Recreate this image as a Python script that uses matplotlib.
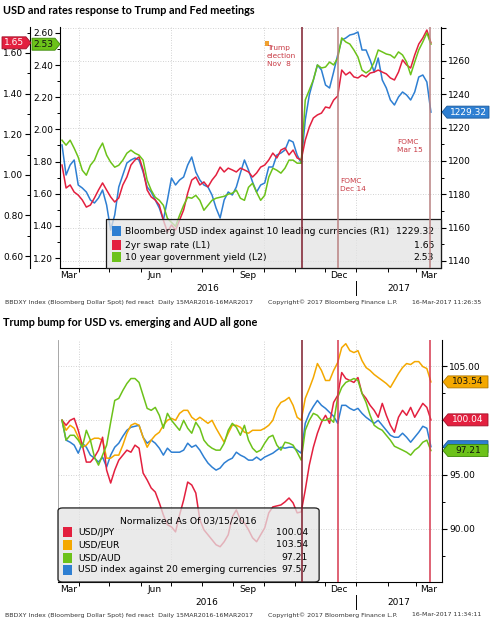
import pandas as pd
import matplotlib
matplotlib.use("Agg")
import matplotlib.pyplot as plt
import matplotlib.dates as mdates
from matplotlib.ticker import MultipleLocator
from matplotlib.patches import Polygon, Rectangle, FancyBboxPatch

W, H = 492, 625

# roughly every 4 days, 15 Mar 2016 .. 16 Mar 2017
dates = pd.date_range("2016-03-15", "2017-03-16", periods=92)

# ---- panel 1: BBDXY (R1), 2yr swap (L1), 10y yield (L2)
bbdxy = [
    1209.6, 1191.6, 1197.6, 1200.6, 1185.6, 1183.8, 1181.4, 1176.6, 1174.8, 1177.8,
    1182.6, 1173.6, 1158.6, 1167.6, 1184.4, 1191.6, 1198.8, 1200.6, 1201.8, 1200.6,
    1193.4, 1184.4, 1181.4, 1176.6, 1171.8, 1164.6, 1176.6, 1189.8, 1185.6, 1188.6,
    1190.4, 1197.6, 1202.4, 1193.4, 1188.6, 1185.6, 1184.4, 1179.6, 1171.8, 1165.8,
    1176.6, 1181.4, 1179.6, 1184.4, 1192.8, 1200.6, 1194.6, 1187.4, 1181.4, 1185.6,
    1186.8, 1196.4, 1196.4, 1203.6, 1204.8, 1206.6, 1212.6, 1211.4, 1203.6, 1198.8,
    1224.6, 1239.6, 1248.6, 1257.6, 1254.6, 1245.6, 1243.8, 1253.4, 1263.6, 1272.6,
    1273.8, 1275.6, 1276.2, 1277.4, 1266.6, 1266.6, 1260.6, 1253.4, 1261.8, 1248.6,
    1243.8, 1236.6, 1233.6, 1238.4, 1241.4, 1239.6, 1236.6, 1241.4, 1250.4, 1251.6,
    1247.4, 1229.32,
]
swap_2y = [
    1.048, 0.935, 0.950, 0.915, 0.900, 0.876, 0.841, 0.851, 0.886, 0.925,
    0.960, 0.925, 0.891, 0.866, 0.886, 0.950, 0.989, 1.048, 1.073, 1.088,
    1.024, 0.925, 0.891, 0.876, 0.851, 0.777, 0.718, 0.753, 0.728, 0.777,
    0.827, 0.910, 0.974, 0.989, 0.950, 0.965, 0.940, 0.974, 0.999, 1.038,
    1.014, 1.033, 1.024, 1.014, 1.033, 1.024, 1.014, 0.989, 1.009, 1.038,
    1.048, 1.073, 1.107, 1.083, 1.122, 1.132, 1.098, 1.122, 1.083, 1.073,
    1.171, 1.235, 1.280, 1.295, 1.304, 1.334, 1.329, 1.368, 1.388, 1.516,
    1.492, 1.506, 1.482, 1.477, 1.492, 1.482, 1.501, 1.506, 1.516, 1.506,
    1.497, 1.477, 1.467, 1.506, 1.566, 1.541, 1.526, 1.590, 1.644, 1.674,
    1.713, 1.65,
]
yield_10y = [
    1.933, 1.902, 1.933, 1.883, 1.827, 1.746, 1.715, 1.777, 1.809, 1.871,
    1.915, 1.840, 1.796, 1.765, 1.777, 1.809, 1.852, 1.871, 1.852, 1.840,
    1.809, 1.684, 1.622, 1.578, 1.559, 1.528, 1.447, 1.422, 1.397, 1.466,
    1.528, 1.578, 1.572, 1.590, 1.559, 1.497, 1.528, 1.559, 1.572, 1.578,
    1.584, 1.597, 1.603, 1.622, 1.572, 1.559, 1.640, 1.665, 1.609, 1.559,
    1.590, 1.703, 1.759, 1.746, 1.728, 1.759, 1.809, 1.809, 1.790, 1.790,
    2.183, 2.245, 2.308, 2.401, 2.382, 2.388, 2.419, 2.401, 2.444, 2.569,
    2.544, 2.531, 2.494, 2.450, 2.369, 2.351, 2.369, 2.419, 2.494, 2.482,
    2.469, 2.463, 2.444, 2.482, 2.463, 2.419, 2.340, 2.419, 2.494, 2.544,
    2.600, 2.53,
]

# ---- panel 2: normalized to 100 on 15 Mar 2016
usd_jpy = [
    100.0, 99.54, 100.0, 100.18, 99.08, 97.71, 96.15, 96.15, 96.61, 97.25,
    98.44, 95.41, 94.22, 95.41, 96.33, 96.79, 97.25, 97.06, 97.71, 97.43,
    95.14, 94.50, 93.76, 93.39, 92.39, 91.28, 90.37, 90.18, 89.72, 91.28,
    92.66, 94.31, 94.04, 93.30, 90.83, 89.91, 89.45, 88.99, 88.53, 88.35,
    88.81, 89.45, 91.10, 91.74, 90.83, 90.55, 89.91, 89.17, 88.81, 89.45,
    90.09, 91.47, 92.02, 92.11, 92.20, 92.48, 92.84, 92.39, 91.47, 91.56,
    93.58, 95.87, 97.52, 98.81, 99.82, 100.46, 99.72, 101.65, 102.29, 104.40,
    103.85, 103.67, 103.49, 103.94, 102.48, 102.02, 101.38, 100.92, 100.28, 101.56,
    100.46, 99.54, 98.90, 100.28, 100.92, 100.46, 101.19, 100.28, 100.92, 101.56,
    101.19, 100.04,
]
usd_eur = [
    100.0, 99.08, 99.54, 99.27, 98.44, 97.52, 97.71, 98.17, 98.35, 98.35,
    98.17, 96.51, 96.51, 96.79, 96.79, 97.71, 98.81, 99.54, 99.72, 99.54,
    98.44, 97.52, 98.17, 98.62, 98.90, 99.54, 100.0, 100.18, 100.0, 100.64,
    100.92, 100.92, 100.28, 100.0, 100.28, 100.0, 99.72, 100.0, 99.27, 98.62,
    97.98, 98.81, 99.54, 99.54, 99.36, 98.90, 98.81, 99.08, 99.08, 99.08,
    99.27, 99.54, 100.0, 101.10, 101.65, 101.83, 102.11, 101.38, 100.28, 100.0,
    102.02, 102.94, 103.94, 105.23, 104.59, 103.67, 103.67, 104.59, 105.32, 106.70,
    107.06, 106.42, 106.24, 106.42, 105.50, 104.86, 104.59, 104.22, 103.94, 103.67,
    103.39, 103.03, 103.67, 104.31, 104.86, 105.23, 105.14, 105.41, 105.41, 104.95,
    104.77, 103.54,
]
usd_aud = [
    100.0, 98.17, 98.62, 98.62, 98.17, 97.52, 99.08, 98.17, 96.61, 95.87,
    96.79, 97.71, 99.82, 101.83, 102.02, 102.75, 103.39, 103.85, 103.85, 103.49,
    102.29, 101.10, 100.92, 101.19, 100.46, 99.27, 100.64, 100.0, 99.54, 99.08,
    100.0, 99.27, 98.81, 99.82, 99.27, 98.17, 97.71, 97.43, 97.25, 97.25,
    97.89, 99.08, 99.72, 99.36, 98.62, 99.54, 98.17, 97.43, 97.06, 97.25,
    97.89, 98.44, 98.62, 97.71, 97.25, 97.98, 97.89, 97.71, 97.06, 96.33,
    99.08, 100.0, 100.64, 100.46, 100.0, 100.0, 100.18, 99.82, 102.11, 103.03,
    103.49, 103.67, 103.85, 103.67, 102.48, 101.65, 100.46, 99.54, 99.27, 99.08,
    98.62, 98.17, 97.61, 97.43, 97.25, 97.06, 96.79, 97.25, 97.52, 97.98,
    98.17, 97.21,
]
usd_em = [
    100.0, 98.17, 97.98, 97.71, 96.97, 97.89, 97.52, 96.79, 96.51, 96.15,
    96.61, 95.69, 96.79, 97.52, 97.89, 98.53, 99.08, 99.36, 99.45, 99.54,
    98.44, 97.89, 98.17, 97.89, 97.43, 96.79, 97.43, 97.06, 97.06, 97.06,
    97.25, 97.89, 97.52, 97.71, 97.25, 96.61, 96.06, 95.69, 95.41, 95.60,
    96.06, 96.33, 96.51, 97.06, 96.79, 96.61, 96.33, 96.33, 96.61, 96.33,
    96.61, 96.79, 96.97, 97.25, 97.52, 97.43, 97.52, 97.52, 97.25, 96.97,
    99.72, 100.64, 101.28, 101.83, 101.38, 101.10, 100.73, 100.37, 99.72, 101.38,
    101.38, 101.10, 100.92, 101.10, 100.64, 100.28, 100.0, 99.72, 100.0, 99.54,
    99.08, 98.62, 98.44, 98.44, 98.81, 98.44, 97.98, 98.44, 98.90, 99.45,
    99.27, 97.57,
]

election_date = pd.Timestamp("2016-11-08")
fomc_dates = pd.to_datetime(["2016-12-14", "2017-03-15"])

month_labels = ["Mar", "Jun", "Sep", "Dec", "Mar"]
month_label_dates = pd.to_datetime(["2016-03-22", "2016-06-15", "2016-09-15", "2016-12-15", "2017-03-14"])
month_starts = pd.date_range("2016-04-01", "2017-03-01", freq="MS")
quarter_starts = pd.to_datetime(["2016-04-01", "2016-07-01", "2016-10-01", "2017-01-01"])

r1_ticks = [1140, 1160, 1180, 1200, 1220, 1240, 1260, 1280]
l1_ticks = [0.6, 0.8, 1.0, 1.2, 1.4, 1.6]
l2_ticks = [1.2, 1.4, 1.6, 1.8, 2.0, 2.2, 2.4, 2.6]
p2_ticks = [90, 95, 100, 105]

BLUE = "#2e7fd2"
RED = "#e3203f"
GREEN = "#6cc21a"
ORANGE = "#f4a800"
GRID = "#c4c4c4"
NOTE = "#c83a44"

plt.rcParams["font.family"] = "DejaVu Sans"
plt.rcParams["axes.linewidth"] = 0.8

fig = plt.figure(figsize=(W / 100, H / 100), dpi=100)


def px_rect(left, top, right, bottom):
    return [left / W, 1 - bottom / H, (right - left) / W, (bottom - top) / H]


def date_axis(ax, start, end):
    ax.set_xlim(pd.Timestamp(start), pd.Timestamp(end))
    ax.set_xticks(month_starts, minor=True)
    ax.set_xticks(month_label_dates, labels=month_labels)
    ax.tick_params(axis="x", which="major", length=0, pad=2, labelsize=6.5)
    ax.tick_params(axis="x", which="minor", length=3, width=0.7, direction="out")
    for q in quarter_starts:
        ax.axvline(q, color=GRID, lw=0.6, ls=(0, (1, 2)), zorder=0)
    x0, x1 = ax.get_xlim()
    jan1 = mdates.date2num(pd.Timestamp("2017-01-01"))
    tr = ax.get_xaxis_transform()
    ax.text((x0 + jan1) / 2, -0.085, "2016", transform=tr, ha="center", va="center", fontsize=6.5)
    ax.text((jan1 + x1) / 2, -0.085, "2017", transform=tr, ha="center", va="center", fontsize=6.5)
    ax.plot([jan1, jan1], [-0.055, -0.112], transform=tr, color="black", lw=0.7, clip_on=False)


def value_tag(ax, value, text, fc, tc, tip_x, points_left, width, ec):
    y = ax.transData.transform((ax.get_xlim()[0], value))[1]
    h = 12
    s = 1 if points_left else -1
    pts = [(tip_x, y), (tip_x + s * 5, y + h / 2), (tip_x + s * width, y + h / 2),
           (tip_x + s * width, y - h / 2), (tip_x + s * 5, y - h / 2)]
    fig.add_artist(Polygon([(px / W, py / H) for px, py in pts], closed=True,
                           transform=fig.transFigure, fc=fc, ec=ec, lw=0.6, zorder=10))
    if text:
        cx = tip_x + s * (5 + (width - 5) / 2)
        fig.text(cx / W, y / H, text, ha="center", va="center", fontsize=6.5, color=tc, zorder=11)


def footer(y_px, stamp):
    fy = 1 - y_px / H
    fig.text(5 / W, fy, "BBDXY Index (Bloomberg Dollar Spot) fed react  Daily 15MAR2016-16MAR2017",
             fontsize=4.5, va="center", color="#333333")
    fig.text(268 / W, fy, "Copyright\u00a9 2017 Bloomberg Finance L.P.", fontsize=4.5,
             va="center", color="#333333")
    fig.text(412 / W, fy, stamp, fontsize=4.5, va="center", color="#333333")


# ================= panel 1 =================
fig.text(3 / W, 1 - 11 / H, "USD and rates response to Trump and Fed meetings",
         fontsize=7.8, fontweight="bold", family="Lato", va="center")

ax1 = fig.add_axes(px_rect(60, 27, 441, 268))
ax1_l1 = ax1.twinx()
ax1_l2 = ax1.twinx()

ax1.plot(dates, bbdxy, color=BLUE, lw=1.1)
ax1_l1.plot(dates, swap_2y, color=RED, lw=1.1)
ax1_l2.plot(dates, yield_10y, color=GREEN, lw=1.1)

date_axis(ax1, "2016-03-13", "2017-03-26")

ax1.set_ylim(1135.8, 1280.4)
ax1.yaxis.tick_right()
ax1.set_yticks(r1_ticks, labels=[str(t) if t < 1280 else "" for t in r1_ticks])
ax1.yaxis.set_minor_locator(MultipleLocator(10))
ax1.grid(axis="y", color=GRID, lw=0.6, ls=(0, (1, 2)))
ax1.set_axisbelow(True)
ax1.spines[["top", "left"]].set_visible(False)

ax1_l1.set_ylim(0.541, 1.728)
ax1_l1.yaxis.tick_left()
ax1_l1.set_yticks(l1_ticks, labels=[f"{t:.2f}" for t in l1_ticks])
ax1_l1.yaxis.set_minor_locator(MultipleLocator(0.1))
ax1_l1.spines[["top", "right", "bottom"]].set_visible(False)
ax1_l1.spines["left"].set_visible(True)
ax1_l1.spines["left"].set_position(("axes", -30 / 381))

ax1_l2.set_ylim(1.138, 2.637)
ax1_l2.yaxis.tick_left()
ax1_l2.set_yticks(l2_ticks, labels=[f"{t:.2f}" for t in l2_ticks])
ax1_l2.yaxis.set_minor_locator(MultipleLocator(0.1))
ax1_l2.spines[["top", "right", "bottom"]].set_visible(False)

for a in (ax1, ax1_l1, ax1_l2):
    a.tick_params(axis="y", which="major", length=3.5, width=0.8, pad=1.5, labelsize=6.5)
    a.tick_params(axis="y", which="minor", length=2, width=0.7)

# legend box
ax1_l2.add_artist(FancyBboxPatch((0.121, 0.0), 0.879, 0.203, boxstyle="square,pad=0",
                                 transform=ax1_l2.transAxes, fc=(0.89, 0.89, 0.89, 0.75),
                                 ec="#1a1a1a", lw=0.9, zorder=5, clip_on=False))
legend1 = [
    (BLUE, "Bloomberg USD index against 10 leading currencies (R1)", f"{bbdxy[-1]:.2f}"),
    (RED, "2yr swap rate (L1)", f"{swap_2y[-1]:.2f}"),
    (GREEN, "10 year government yield (L2)", f"{yield_10y[-1]:.2f}"),
]
for (c, lab, val), yy in zip(legend1, [0.1535, 0.0954, 0.0456]):
    ax1_l2.add_artist(Rectangle((0.1365, yy - 0.019), 0.0236, 0.038, transform=ax1_l2.transAxes,
                                fc=c, ec="none", zorder=6))
    ax1_l2.text(0.1706, yy, lab, transform=ax1_l2.transAxes, fontsize=6.7, va="center", zorder=6)
    ax1_l2.text(0.9816, yy, val, transform=ax1_l2.transAxes, fontsize=6.7, va="center",
                ha="right", zorder=6)

ax1_l2.axvline(election_date, color="#7d1d2c", lw=1.1, zorder=7)
for d in fomc_dates:
    ax1_l2.axvline(d, color="#b98181", lw=1.1, zorder=7)

ax1_l2.add_artist(Rectangle((0.537, 0.922), 0.012, 0.02, transform=ax1_l2.transAxes,
                            fc="#f0a030", ec="none", zorder=6))
ax1_l2.text(0.543, 0.925, "Trump\nelection\nNov  8", transform=ax1_l2.transAxes, fontsize=5.3,
            color=NOTE, va="top", linespacing=1.4, zorder=6)
ax1_l2.text(0.735, 0.373, "FOMC\nDec 14", transform=ax1_l2.transAxes, fontsize=5.3,
            color=NOTE, va="top", linespacing=1.4, zorder=6)
ax1_l2.text(0.8845, 0.535, "FOMC\nMar 15", transform=ax1_l2.transAxes, fontsize=5.3,
            color=NOTE, va="top", linespacing=1.4, zorder=6)

footer(302, "16-Mar-2017 11:26:35")

value_tag(ax1_l1, swap_2y[-1], f"{swap_2y[-1]:.2f}", RED, "white", 31, False, 29, "#a01028")
value_tag(ax1_l2, yield_10y[-1], f"{yield_10y[-1]:.2f}", GREEN, "#111111", 60, False, 28, "#3d8a08")
value_tag(ax1, bbdxy[-1], f"{bbdxy[-1]:.2f}", BLUE, "white", 442, True, 47, "#1a5a9a")

# ================= panel 2 =================
fig.text(3 / W, 1 - 323 / H, "Trump bump for USD vs. emerging and AUD all gone",
         fontsize=7.8, fontweight="bold", family="Lato", va="center")

ax2 = fig.add_axes(px_rect(58, 340, 442, 582))
ax2.plot(dates, usd_em, color=BLUE, lw=1.1)
ax2.plot(dates, usd_eur, color=ORANGE, lw=1.1)
ax2.plot(dates, usd_jpy, color=RED, lw=1.1)
ax2.plot(dates, usd_aud, color=GREEN, lw=1.1)

date_axis(ax2, "2016-03-11", "2017-03-27")
ax2.set_ylim(85.1, 107.4)
ax2.yaxis.tick_right()
# the 100.00 label sits under the USD/JPY tag in the original
ax2.set_yticks(p2_ticks, labels=[f"{t:.2f}" if t != 100 else "" for t in p2_ticks])
ax2.yaxis.set_minor_locator(MultipleLocator(2.5))
ax2.tick_params(axis="y", which="major", length=3.5, width=0.8, pad=1.5, labelsize=6.5)
ax2.tick_params(axis="y", which="minor", length=2, width=0.7)
ax2.grid(axis="y", color=GRID, lw=0.6, ls=(0, (1, 2)))
ax2.set_axisbelow(True)
ax2.spines["top"].set_visible(False)
ax2.spines["left"].set_color("#999999")
ax2.spines["left"].set_linewidth(0.6)

ax2.add_artist(FancyBboxPatch((0.0, 0.0), 0.68, 0.306, boxstyle="round,pad=0,rounding_size=0.012",
                              transform=ax2.transAxes, fc=(0.89, 0.89, 0.89, 0.75),
                              ec="#1a1a1a", lw=0.9, zorder=5, clip_on=False))
ax2.text(0.3385, 0.252, "Normalized As Of 03/15/2016", transform=ax2.transAxes, fontsize=6.7,
         ha="center", va="center", zorder=6)
legend2 = [
    (RED, "USD/JPY", usd_jpy[-1]),
    (ORANGE, "USD/EUR", usd_eur[-1]),
    (GREEN, "USD/AUD", usd_aud[-1]),
    (BLUE, "USD index against 20 emerging currencies", usd_em[-1]),
]
for (c, lab, val), yy in zip(legend2, [0.2066, 0.1529, 0.0992, 0.0496]):
    ax2.add_artist(Rectangle((0.013, yy - 0.019), 0.0245, 0.038, transform=ax2.transAxes,
                             fc=c, ec="none", zorder=6))
    ax2.text(0.052, yy, lab, transform=ax2.transAxes, fontsize=6.7, va="center", zorder=6)
    ax2.text(0.651, yy, f"{val:.2f}", transform=ax2.transAxes, fontsize=6.7, va="center",
             ha="right", zorder=6)

ax2.axvline(election_date, color="#7d1d2c", lw=1.1, zorder=7)
for d in fomc_dates:
    ax2.axvline(d, color="#d6384e", lw=1.1, zorder=7)

footer(615, "16-Mar-2017 11:34:11")

value_tag(ax2, usd_eur[-1], f"{usd_eur[-1]:.2f}", ORANGE, "#111111", 443, True, 45, "#b07800")
value_tag(ax2, usd_jpy[-1], f"{usd_jpy[-1]:.2f}", RED, "white", 443, True, 45, "#a01028")
# EM tag is covered by the AUD tag in the original, only its edge shows
value_tag(ax2, usd_em[-1], "", BLUE, "white", 443, True, 45, "#1a5a9a")
value_tag(ax2, usd_aud[-1], f"{usd_aud[-1]:.2f}", GREEN, "#111111", 443, True, 45, "#3d8a08")

fig.savefig("out.png", dpi=100)
